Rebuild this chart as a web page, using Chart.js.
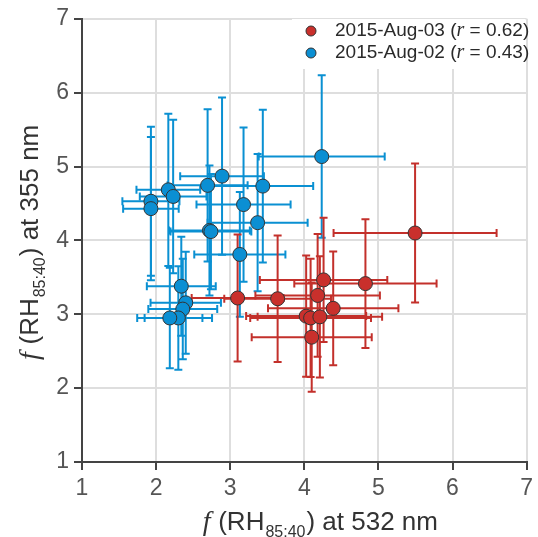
<!DOCTYPE html>
<html><head><meta charset="utf-8">
<script src="https://cdn.jsdelivr.net/npm/chart.js@4.4.0/dist/chart.umd.min.js"></script>
<style>html,body{margin:0;padding:0;background:#fff;}#wrap{width:538px;height:537px;position:relative;}</style>
</head><body><div id="wrap"><canvas id="c" width="538" height="537"></canvas></div>
<script>
// ---- data ----
const seriesNames = ['2015-Aug-03', '2015-Aug-02'];
const seriesR = ['0.62', '0.43'];

const aug03X    = [3.10, 3.64, 4.26, 4.825, 4.18, 4.39, 4.025, 4.085, 4.21, 4.10, 5.495];
const aug03Y    = [3.22, 3.21, 3.465, 3.415, 3.255, 3.08, 2.975, 2.95, 2.965, 2.69, 4.10];
const aug03XErr = [0.62, 0.72, 0.86, 0.96, 0.84, 0.88, 0.81, 0.815, 0.84, 0.81, 1.10];
const aug03YErr = [0.86, 0.855, 0.84, 0.87, 0.83, 0.77, 0.82, 0.80, 0.82, 0.74, 0.94];

const aug02X    = [1.93, 1.93, 2.165, 2.23, 2.695, 2.89, 3.44, 3.18, 3.37, 2.72, 2.74, 3.13, 4.235, 2.34, 2.40, 2.36, 2.30, 2.185];
const aug02Y    = [4.53, 4.43, 4.685, 4.595, 4.745, 4.87, 4.735, 4.485, 4.24, 4.135, 4.12, 3.81, 5.135, 3.38, 3.155, 3.07, 2.95, 2.95];
const aug02XErr = [0.385, 0.375, 0.43, 0.45, 0.54, 0.565, 0.68, 0.635, 0.675, 0.545, 0.545, 0.615, 0.85, 0.465, 0.475, 0.465, 0.455, 0.44];
const aug02YErr = [1.01, 0.97, 1.03, 1.04, 1.03, 1.065, 1.035, 1.045, 0.93, 0.88, 0.78, 0.845, 1.10, 0.67, 0.69, 0.68, 0.70, 0.68];

const xTicks = [1, 2, 3, 4, 5, 6, 7];
const yTicks = [1, 2, 3, 4, 5, 6, 7];

const xTitleParts = ['f', '(RH', '85:40', ') at 532 nm'];
const yTitleParts = ['f', '(RH', '85:40', ') at 355 nm'];

// ---- styles ----
const RED = '#c9302c', RED_BAR = '#c3302b';
const BLUE = '#0b8fd3', BLUE_BAR = '#0a90d2';
const SANS = '"Liberation Sans", Arial, Helvetica, sans-serif';
const SERIF = '"Liberation Serif", "DejaVu Serif", serif';

function build(xs, ys, xe, ye) {
  return xs.map((x, i) => ({ x: x, y: ys[i], xErr: xe[i], yErr: ye[i] }));
}

const errorBarPlugin = {
  id: 'errorBars',
  beforeDatasetsDraw(chart) {
    const ctx = chart.ctx, sx = chart.scales.x, sy = chart.scales.y;
    const cap = 4;
    for (let di = chart.data.datasets.length - 1; di >= 0; di--) {
      const ds = chart.data.datasets[di];
      ctx.save();
      ctx.strokeStyle = ds.errorColor;
      ctx.lineWidth = 2;
      ds.data.forEach(p => {
        const px = sx.getPixelForValue(p.x), py = sy.getPixelForValue(p.y);
        const x0 = sx.getPixelForValue(p.x - p.xErr), x1 = sx.getPixelForValue(p.x + p.xErr);
        const y0 = sy.getPixelForValue(p.y - p.yErr), y1 = sy.getPixelForValue(p.y + p.yErr);
        ctx.beginPath();
        ctx.moveTo(x0, py); ctx.lineTo(x1, py);
        ctx.moveTo(px, y0); ctx.lineTo(px, y1);
        ctx.moveTo(x0, py - cap); ctx.lineTo(x0, py + cap);
        ctx.moveTo(x1, py - cap); ctx.lineTo(x1, py + cap);
        ctx.moveTo(px - cap, y0); ctx.lineTo(px + cap, y0);
        ctx.moveTo(px - cap, y1); ctx.lineTo(px + cap, y1);
        ctx.stroke();
      });
      ctx.restore();
    }
  }
};

function drawTitle(ctx, parts, size) {
  let x = 0;
  ctx.textBaseline = 'alphabetic';
  ctx.textAlign = 'left';
  ctx.font = 'italic ' + (size + 2) + 'px ' + SERIF;
  ctx.fillText(parts[0], x, 0);
  x += ctx.measureText(parts[0]).width + size * 0.3;
  ctx.font = size + 'px ' + SANS;
  ctx.fillText(parts[1], x, 0);
  x += ctx.measureText(parts[1]).width;
  const sub = Math.round(size * 0.62);
  ctx.font = sub + 'px ' + SANS;
  ctx.fillText(parts[2], x + 1, size * 0.28);
  x += ctx.measureText(parts[2]).width + 2;
  ctx.font = size + 'px ' + SANS;
  ctx.fillText(parts[3], x, 0);
  x += ctx.measureText(parts[3]).width;
  return x;
}
function measureTitle(ctx, parts, size) {
  ctx.save();
  let w = 0;
  ctx.font = 'italic ' + (size + 2) + 'px ' + SERIF; w += ctx.measureText(parts[0]).width + size * 0.3;
  ctx.font = size + 'px ' + SANS; w += ctx.measureText(parts[1]).width;
  ctx.font = Math.round(size * 0.62) + 'px ' + SANS; w += ctx.measureText(parts[2]).width + 2;
  ctx.font = size + 'px ' + SANS; w += ctx.measureText(parts[3]).width;
  ctx.restore();
  return w;
}

const decorPlugin = {
  id: 'decor',
  afterDraw(chart) {
    const ctx = chart.ctx, area = chart.chartArea;
    const TS = 26;
    ctx.save();
    ctx.fillStyle = '#333';
    const wx = measureTitle(ctx, xTitleParts, TS);
    ctx.save();
    ctx.translate((area.left + area.right) / 2 - wx / 2 + 16, 530);
    drawTitle(ctx, xTitleParts, TS);
    ctx.restore();
    const wy = measureTitle(ctx, yTitleParts, TS);
    ctx.save();
    ctx.translate(38, (area.top + area.bottom) / 2 + wy / 2 + 2);
    ctx.rotate(-Math.PI / 2);
    drawTitle(ctx, yTitleParts, TS);
    ctx.restore();

    // legend
    ctx.fillStyle = '#fff';
    ctx.fillRect(292, 19, area.right - 292 - 1, 50);
    const cols = [RED, BLUE];
    const rows = [31, 53];
    for (let i = 0; i < 2; i++) {
      const y = rows[i];
      ctx.beginPath();
      ctx.arc(311, y, 5, 0, Math.PI * 2);
      ctx.fillStyle = cols[i];
      ctx.fill();
      ctx.lineWidth = 1; ctx.strokeStyle = '#333'; ctx.stroke();
      ctx.fillStyle = '#2a2a2a';
      ctx.textBaseline = 'middle'; ctx.textAlign = 'left';
      let x = 335;
      ctx.font = '19px ' + SANS;
      const a = seriesNames[i] + ' (';
      ctx.fillText(a, x, y); x += ctx.measureText(a).width;
      ctx.font = 'italic 20px ' + SERIF;
      ctx.fillText('r', x, y); x += ctx.measureText('r').width;
      ctx.font = '19px ' + SANS;
      const b = ' = ' + seriesR[i] + ')';
      ctx.fillText(b, x, y);
    }
    ctx.restore();
  }
};

const axisCommon = (ticksArr) => ({
  type: 'linear',
  min: ticksArr[0], max: ticksArr[ticksArr.length - 1],
  afterBuildTicks(scale) { scale.ticks = ticksArr.map(v => ({ value: v })); },
  ticks: { color: '#555', font: { family: SANS, size: 23 }, padding: 5, callback: v => String(v) },
  grid: { color: '#dedede', lineWidth: 2, drawTicks: true, tickLength: 8, tickColor: '#444', tickWidth: 2 },
  border: { color: '#444', width: 2 }
});

const xAxis = axisCommon(xTicks);
xAxis.afterFit = s => { s.height = 75; };
const yAxis = axisCommon(yTicks);
yAxis.afterFit = s => { s.width = 82; };
yAxis.ticks.padding = 5;

new Chart(document.getElementById('c'), {
  type: 'scatter',
  data: {
    datasets: [
      { label: seriesNames[0], data: build(aug03X, aug03Y, aug03XErr, aug03YErr),
        backgroundColor: RED, borderColor: '#333', borderWidth: 1, pointRadius: 7, errorColor: RED_BAR },
      { label: seriesNames[1], data: build(aug02X, aug02Y, aug02XErr, aug02YErr),
        backgroundColor: BLUE, borderColor: '#333', borderWidth: 1, pointRadius: 7, errorColor: BLUE_BAR }
    ]
  },
  options: {
    responsive: false, animation: false, devicePixelRatio: 1,
    layout: { padding: { left: 0, top: 17, right: 6, bottom: 0 } },
    plugins: { legend: { display: false }, tooltip: { enabled: false } },
    scales: { x: xAxis, y: yAxis }
  },
  plugins: [errorBarPlugin, decorPlugin]
});
</script></body></html>
